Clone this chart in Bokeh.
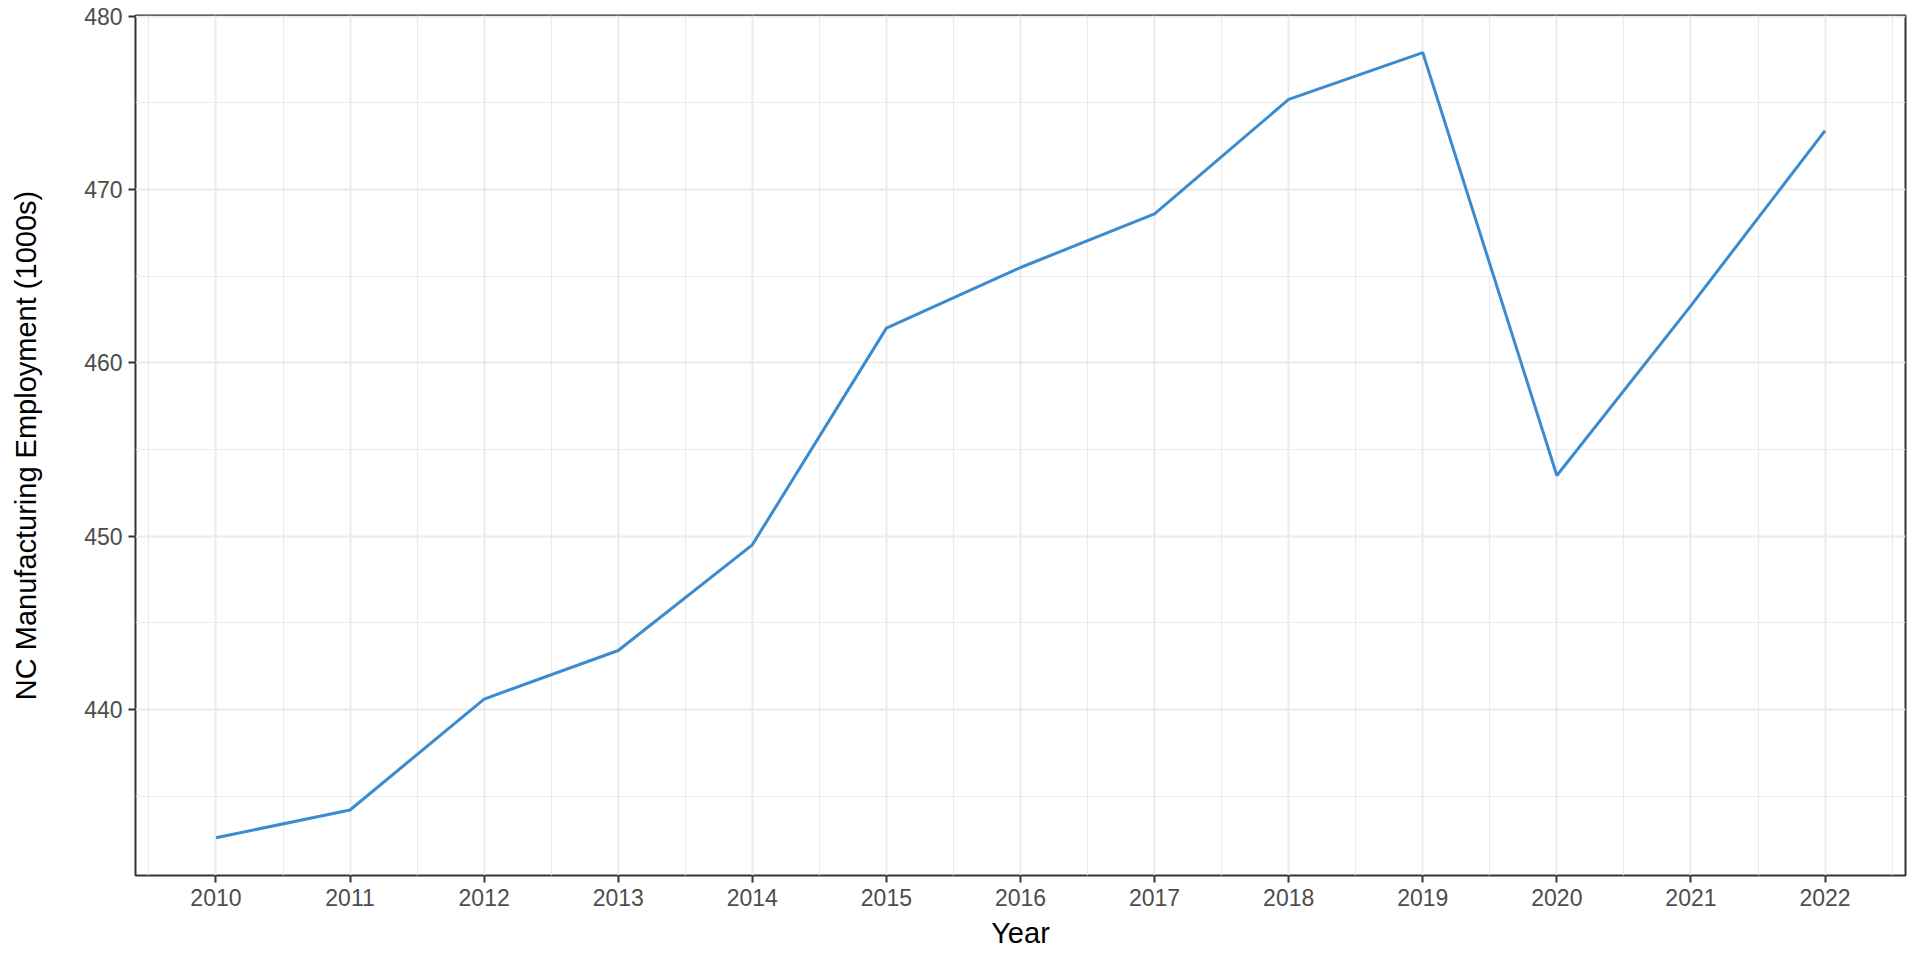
from bokeh.plotting import figure
from bokeh.models import Range1d, FixedTicker
from bokeh.embed import file_html
from bokeh.resources import INLINE

years = [2010, 2011, 2012, 2013, 2014, 2015, 2016, 2017, 2018, 2019, 2020, 2021, 2022]
employment = [432.6, 434.2, 440.6, 443.4, 449.5, 462.0, 465.5, 468.6, 475.2, 477.9, 453.5, 463.3, 473.4]
y_ticks = [440, 450, 460, 470, 480]
y_minor = [435, 445, 455, 465, 475]
x_minor = [y + 0.5 for y in range(2009, 2023)]

FONT = "Liberation Sans"

p = figure(width=1912, height=952, output_backend="svg", toolbar_location=None,
           x_range=Range1d(2009.4, 2022.6), y_range=Range1d(430.42, 480.04),
           min_border_left=135, min_border_right=7, min_border_top=15, min_border_bottom=77)

p.line(years, employment, line_color="#3A8BCF", line_width=3)

p.xaxis.ticker = FixedTicker(ticks=years, minor_ticks=x_minor)
p.yaxis.ticker = FixedTicker(ticks=y_ticks, minor_ticks=y_minor)

for g in (p.xgrid, p.ygrid):
    g.grid_line_color = "#EBEBEB"
    g.grid_line_width = 2
    g.minor_grid_line_color = "#EBEBEB"
    g.minor_grid_line_width = 1.2

p.outline_line_color = "#333333"
p.outline_line_width = 2
p.background_fill_color = "white"
p.border_fill_color = "white"

for ax in (p.xaxis, p.yaxis):
    ax.axis_line_color = None
    ax.major_tick_line_color = "#333333"
    ax.major_tick_line_width = 2
    ax.major_tick_out = 7
    ax.major_tick_in = 0
    ax.minor_tick_line_color = None
    ax.major_label_text_font = FONT
    ax.major_label_text_font_size = "23px"
    ax.major_label_text_color = "#4D4D4D"
    ax.axis_label_text_font = FONT
    ax.axis_label_text_font_size = "29px"
    ax.axis_label_text_font_style = "normal"
    ax.axis_label_text_color = "black"
    ax.major_label_standoff = 6

p.xaxis.axis_label = "Year"
p.yaxis.axis_label = "NC Manufacturing Employment (1000s)"
p.xaxis.axis_label_standoff = 8
p.yaxis.axis_label_standoff = 39

open("out.html", "w").write(file_html(p, INLINE))
